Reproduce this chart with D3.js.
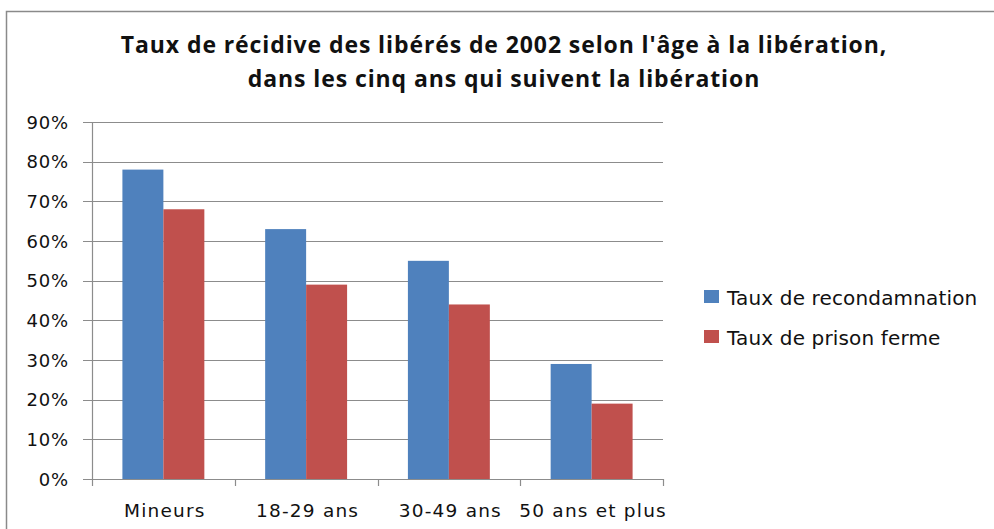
<!DOCTYPE html>
<html>
<head>
<meta charset="utf-8">
<script src="https://cdn.jsdelivr.net/npm/d3@7"></script>
<style>
  body { margin: 0; background: #fff; }
  text { font-family: "DejaVu Sans", Verdana, sans-serif; fill: #111; }
  .title { font-family: "Open Sans", sans-serif; font-weight: bold; }
</style>
</head>
<body>
<script>
const categories = ["Mineurs", "18-29 ans", "30-49 ans", "50 ans et plus"]
const seriesNames = ["Taux de recondamnation", "Taux de prison ferme"]
const recondamnation = [78, 63, 55, 29]
const prisonFerme = [68, 49, 44, 19]
const yTicks = [0, 10, 20, 30, 40, 50, 60, 70, 80, 90]
const titleLines = ["Taux de récidive des libérés de 2002 selon l'âge à la libération,",
                    "dans les cinq ans qui suivent la libération"]

const colors = ["#4F81BD", "#C0504D"]
const values = [recondamnation, prisonFerme]

const W = 994, H = 529
const margin = {top: 122, left: 92, right: 331, bottom: 50}
const width = W - margin.left - margin.right
const height = 479 - margin.top

const svg = d3.select("body").append("svg")
    .attr("width", W)
    .attr("height", H)

// chart frame
svg.append("rect")
    .attr("x", 6.5).attr("y", 11.5)
    .attr("width", 1200).attr("height", 800)
    .attr("fill", "none")
    .attr("stroke", "#8a8a8a")
    .attr("stroke-width", 1.5)

// title
svg.selectAll(".title")
    .data(titleLines)
    .enter().append("text")
    .attr("class", "title")
    .attr("x", 504)
    .attr("y", (d, i) => 53 + i * 34)
    .attr("text-anchor", "middle")
    .style("font-size", "23px")
    .style("letter-spacing", "0.9px")
    .text(d => d)

const g = svg.append("g")
    .attr("transform", "translate(" + margin.left + "," + margin.top + ")")

const x0 = d3.scaleBand().domain(categories).range([0, width])
const pad = x0.bandwidth() * 0.213
const x1 = d3.scaleBand().domain(d3.range(seriesNames.length)).range([pad, x0.bandwidth() - pad])
const y = d3.scaleLinear().domain([0, 90]).range([height, 0])

// gridlines
g.selectAll(".grid")
    .data(yTicks)
    .enter().append("line")
    .attr("x1", -9).attr("x2", width)
    .attr("y1", d => Math.round(y(d)) + 0.5)
    .attr("y2", d => Math.round(y(d)) + 0.5)
    .attr("stroke", "#8c8c8c")
    .attr("stroke-width", 1.2)

// y axis line
g.append("line")
    .attr("x1", 0.5).attr("x2", 0.5)
    .attr("y1", 0).attr("y2", height)
    .attr("stroke", "#8c8c8c")
    .attr("stroke-width", 1.2)

g.selectAll(".ylab")
    .data(yTicks)
    .enter().append("text")
    .attr("x", -23)
    .attr("y", d => y(d) + 6.5)
    .attr("text-anchor", "end")
    .style("font-size", "18px")
    .style("letter-spacing", "0.8px")
    .text(d => d + "%")

// x ticks at category boundaries
const boundaries = categories.map(c => x0(c)).concat([width])
g.selectAll(".xtick")
    .data(boundaries)
    .enter().append("line")
    .attr("x1", d => Math.round(d) + 0.5)
    .attr("x2", d => Math.round(d) + 0.5)
    .attr("y1", height).attr("y2", height + 7)
    .attr("stroke", "#8c8c8c")
    .attr("stroke-width", 1.2)

g.selectAll(".xlab")
    .data(categories)
    .enter().append("text")
    .attr("x", d => x0(d) + x0.bandwidth() / 2 + 1.5)
    .attr("y", height + 38)
    .attr("text-anchor", "middle")
    .style("font-size", "18.5px")
    .style("letter-spacing", "1.2px")
    .text(d => d)

// bars
const group = g.selectAll(".cat")
    .data(categories)
    .enter().append("g")
    .attr("transform", d => "translate(" + x0(d) + ",0)")

group.selectAll("rect")
    .data((d, i) => values.map((v, s) => ({s: s, v: v[i]})))
    .enter().append("rect")
    .attr("x", d => x1(d.s))
    .attr("width", x1.bandwidth())
    .attr("y", d => y(d.v))
    .attr("height", d => height - y(d.v))
    .attr("fill", d => colors[d.s])

// legend
const legend = svg.selectAll(".legend")
    .data(seriesNames)
    .enter().append("g")
    .attr("transform", (d, i) => "translate(704," + (290 + i * 40) + ")")

legend.append("rect")
    .attr("width", 15).attr("height", 13)
    .attr("fill", (d, i) => colors[i])

legend.append("text")
    .attr("x", 23)
    .attr("y", 14.5)
    .style("font-size", "20px")
    .style("letter-spacing", "0.15px")
    .text(d => d)
</script>
</body>
</html>
